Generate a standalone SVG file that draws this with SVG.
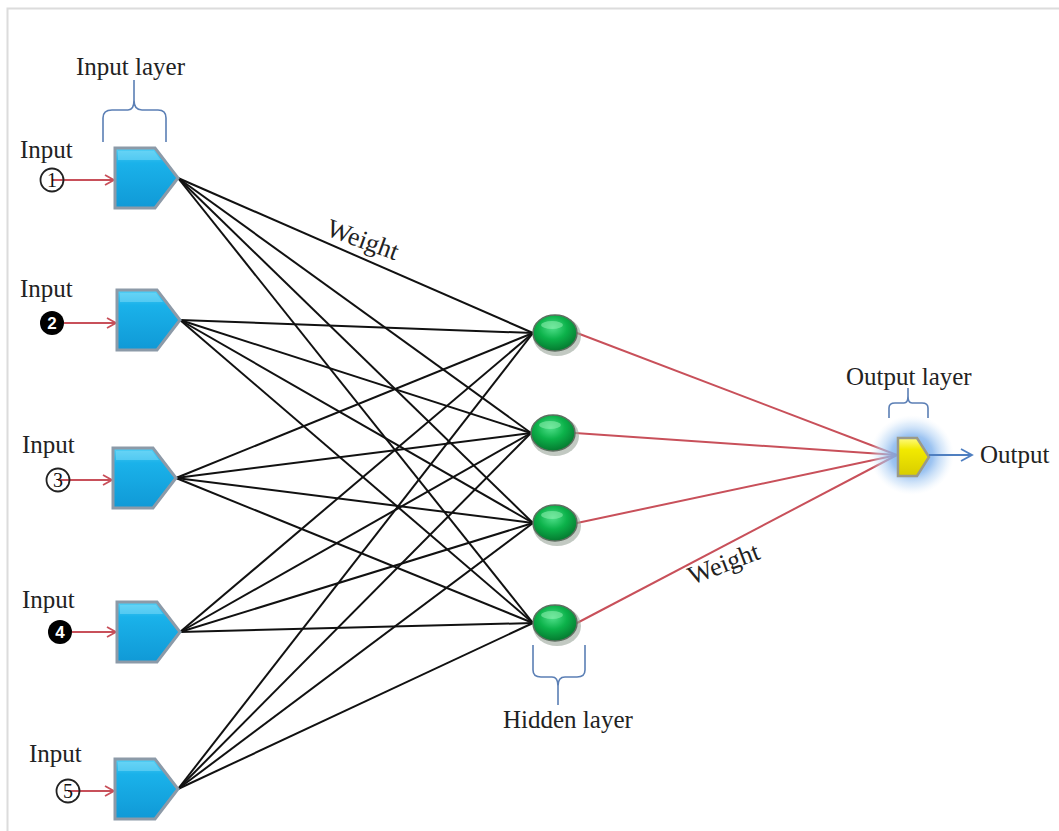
<svg xmlns="http://www.w3.org/2000/svg" width="1059" height="831" viewBox="0 0 1059 831">
<style>
.lbl{font-family:"Liberation Serif","Times New Roman",serif;font-size:25px;fill:#222}
.num{font-family:"Liberation Sans",Arial,sans-serif;font-size:17px;font-weight:bold;text-anchor:middle}
.snum{font-family:"Liberation Serif","Times New Roman",serif;font-size:20px;text-anchor:middle;fill:#111}
.blk{stroke:#111;stroke-width:2;fill:none}
.red{stroke:#c8505a;stroke-width:2;fill:none}
.brace{stroke:#5b7fb5;stroke-width:1.6;fill:none}
</style>
<defs>
<linearGradient id="gBlue" x1="0" y1="0" x2="0" y2="1">
<stop offset="0" stop-color="#55d0f5"/><stop offset="0.25" stop-color="#1ab2ea"/><stop offset="1" stop-color="#1099d6"/>
</linearGradient>
<linearGradient id="gYel" x1="0" y1="0" x2="0" y2="1">
<stop offset="0" stop-color="#fffb80"/><stop offset="0.3" stop-color="#f2ea00"/><stop offset="1" stop-color="#d8cc00"/>
</linearGradient>
<radialGradient id="gGreen" cx="0.45" cy="0.35" r="0.65">
<stop offset="0" stop-color="#4fe08a"/><stop offset="0.5" stop-color="#0cb24a"/><stop offset="1" stop-color="#057a30"/>
</radialGradient>
<radialGradient id="gGlow" cx="0.5" cy="0.5" r="0.5">
<stop offset="0" stop-color="#5b98e6" stop-opacity="1"/><stop offset="0.5" stop-color="#86b6ee" stop-opacity="0.8"/><stop offset="0.8" stop-color="#c2dcf7" stop-opacity="0.45"/><stop offset="1" stop-color="#e6f1fc" stop-opacity="0"/>
</radialGradient>
<marker id="aRed" markerWidth="12" markerHeight="12" refX="10" refY="6" orient="auto" markerUnits="userSpaceOnUse">
<path d="M1,1 L10,6 L1,11" fill="none" stroke="#c8505a" stroke-width="1.8"/>
</marker>
<marker id="aBlue" markerWidth="14" markerHeight="14" refX="12" refY="7" orient="auto" markerUnits="userSpaceOnUse">
<path d="M1,1 L12,7 L1,13" fill="none" stroke="#4f7fc0" stroke-width="1.8"/>
</marker>
<g id="pent">
<path d="M0,-30 L40,-30 L63,0 L40,30 L0,30 Z" fill="url(#gBlue)" stroke="#8c9aa8" stroke-width="3"/>
<path d="M3,-27 L39,-27 L46,-18 L3,-18 Z" fill="#7fdcf8" opacity="0.5"/>
</g>
<g id="hid">
<ellipse cx="2" cy="3" rx="24" ry="20" fill="#9aa59a" opacity="0.6"/>
<ellipse cx="0" cy="0" rx="22" ry="18" fill="url(#gGreen)" stroke="#5e6e60" stroke-width="1.5"/>
<ellipse cx="-3" cy="-8" rx="11" ry="4" fill="#8ff0b0" opacity="0.55"/>
</g>
</defs>
<rect x="0" y="0" width="1059" height="831" fill="#ffffff"/>
<path d="M7.5,831 L7.5,8.5 L1059,8.5" fill="none" stroke="#dcdcdc" stroke-width="2"/>

<g id="connectors">
<g class="blk">
<line x1="178" y1="178" x2="533" y2="333"/><line x1="178" y1="178" x2="531" y2="433"/><line x1="178" y1="178" x2="533" y2="523"/><line x1="178" y1="178" x2="533" y2="623"/>
<line x1="180" y1="320" x2="533" y2="333"/><line x1="180" y1="320" x2="531" y2="433"/><line x1="180" y1="320" x2="533" y2="523"/><line x1="180" y1="320" x2="533" y2="623"/>
<line x1="176" y1="478" x2="533" y2="333"/><line x1="176" y1="478" x2="531" y2="433"/><line x1="176" y1="478" x2="533" y2="523"/><line x1="176" y1="478" x2="533" y2="623"/>
<line x1="180" y1="632" x2="533" y2="333"/><line x1="180" y1="632" x2="531" y2="433"/><line x1="180" y1="632" x2="533" y2="523"/><line x1="180" y1="632" x2="533" y2="623"/>
<line x1="178" y1="789" x2="533" y2="333"/><line x1="178" y1="789" x2="531" y2="433"/><line x1="178" y1="789" x2="533" y2="523"/><line x1="178" y1="789" x2="533" y2="623"/>
</g>
<g class="red">
<line x1="577" y1="333" x2="897" y2="455"/><line x1="575" y1="433" x2="897" y2="455"/><line x1="577" y1="523" x2="897" y2="455"/><line x1="577" y1="623" x2="897" y2="455"/>
<line x1="52" y1="180" x2="114" y2="180" marker-end="url(#aRed)"/>
<line x1="64" y1="323" x2="116" y2="323" marker-end="url(#aRed)"/>
<line x1="58" y1="480" x2="112" y2="480" marker-end="url(#aRed)"/>
<line x1="72" y1="632" x2="116" y2="632" marker-end="url(#aRed)"/>
<line x1="68" y1="791" x2="114" y2="791" marker-end="url(#aRed)"/>
</g>
</g>

<g id="input1"><text class="lbl" x="20" y="158">Input</text><circle cx="52" cy="180" r="11.5" fill="none" stroke="#222" stroke-width="1.8"/><text class="snum" x="52" y="187">1</text><use href="#pent" x="115" y="178"/></g>
<g id="input2"><text class="lbl" x="20" y="297">Input</text><circle cx="52" cy="323" r="12" fill="#000"/><text class="num" x="52" y="329" fill="#fff">2</text><use href="#pent" x="117" y="320"/></g>
<g id="input3"><text class="lbl" x="22" y="453">Input</text><circle cx="58" cy="480" r="11.5" fill="none" stroke="#222" stroke-width="1.8"/><text class="snum" x="58" y="487">3</text><use href="#pent" x="113" y="478"/></g>
<g id="input4"><text class="lbl" x="22" y="608">Input</text><circle cx="60" cy="632" r="12" fill="#000"/><text class="num" x="60" y="638" fill="#fff">4</text><use href="#pent" x="117" y="632"/></g>
<g id="input5"><text class="lbl" x="29" y="762">Input</text><circle cx="68" cy="791" r="11.5" fill="none" stroke="#222" stroke-width="1.8"/><text class="snum" x="68" y="798">5</text><use href="#pent" x="115" y="789"/></g>

<g id="input-layer-label"><text class="lbl" x="76" y="75">Input layer</text>
<path class="brace" d="M103,142 L103,118 Q103,110 112,110 L128,110 Q134,110 134,100 L134,80 M134,80 L134,100 Q134,110 142,110 L158,110 Q166,110 166,118 L166,142"/></g>

<g id="hidden1"><use href="#hid" x="555" y="333"/></g>
<g id="hidden2"><use href="#hid" x="553" y="433"/></g>
<g id="hidden3"><use href="#hid" x="555" y="523"/></g>
<g id="hidden4"><use href="#hid" x="555" y="623"/></g>
<g id="hidden-layer-label">
<path class="brace" d="M533,645 L533,670 Q533,677 541,677 L552,677 Q558,677 558,686 L558,705 M558,705 L558,686 Q558,677 565,677 L577,677 Q585,677 585,670 L585,645"/>
<text class="lbl" x="503" y="728">Hidden layer</text></g>

<g id="output">
<ellipse cx="912" cy="455" rx="42" ry="40" fill="url(#gGlow)"/>
<path d="M898,438 L917,438 L929,457 L917,476 L898,476 Z" fill="url(#gYel)" stroke="#9a9a8a" stroke-width="2.5"/>
<line x1="929" y1="455" x2="972" y2="455" stroke="#4f7fc0" stroke-width="2" marker-end="url(#aBlue)"/>
<path class="brace" d="M889,418 L889,408 Q889,403 895,403 L904,403 Q908,403 908,396 L908,388 M908,388 L908,396 Q908,403 912,403 L922,403 Q928,403 928,408 L928,418"/>
<text class="lbl" x="846" y="385">Output layer</text>
<text class="lbl" x="980" y="463">Output</text>
</g>

<g id="weight-labels">
<text class="lbl" font-size="26" transform="translate(325,235) rotate(20)" style="font-size:26px">Weight</text>
<text class="lbl" transform="translate(692,585) rotate(-21)" style="font-size:26px">Weight</text>
</g>
</svg>
